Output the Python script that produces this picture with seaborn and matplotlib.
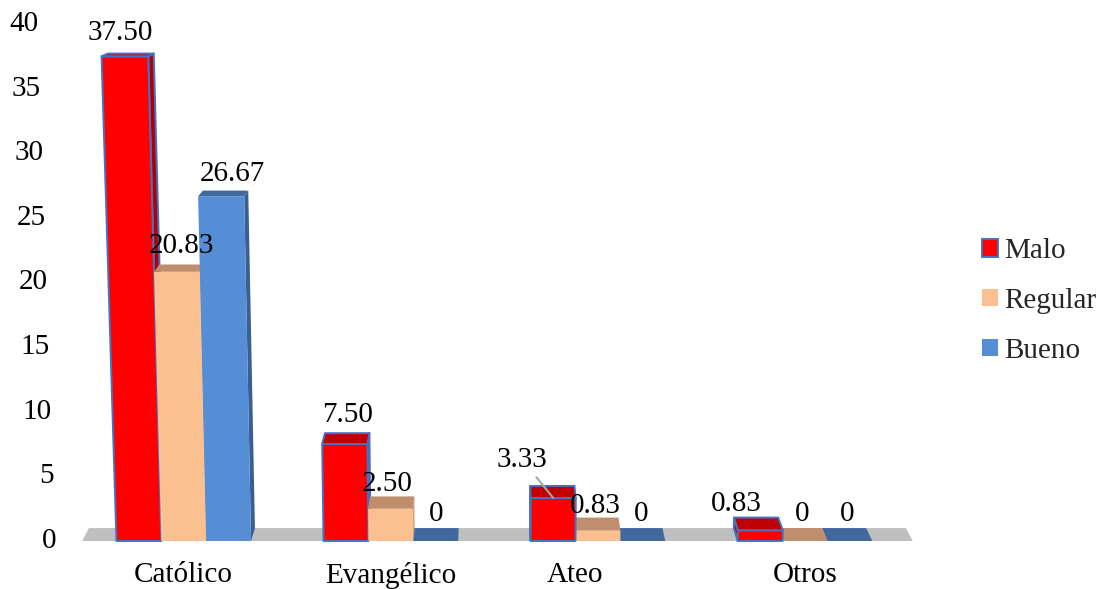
import matplotlib
matplotlib.use("Agg")
import matplotlib.pyplot as plt
from matplotlib.patches import Polygon, Patch
from matplotlib.transforms import ScaledTranslation
import pandas as pd
import seaborn as sns

# ---- data -------------------------------------------------------------
categorias = ["Católico", "Evangélico", "Ateo", "Otros"]
niveles = ["Malo", "Regular", "Bueno"]
malo = [37.50, 7.50, 3.33, 0.83]
regular = [20.83, 2.50, 0.83, 0]
bueno = [26.67, 0, 0, 0]
y_ticks = [0, 5, 10, 15, 20, 25, 30, 35, 40]

df = pd.DataFrame({
    "Religión": categorias * len(niveles),
    "Nivel": [n for n in niveles for _ in categorias],
    "Porcentaje": malo + regular + bueno,
})

# ---- styles -----------------------------------------------------------
colores_frente = {"Malo": "#FF0000", "Regular": "#FAC090", "Bueno": "#558ED5"}
colores_tapa = {"Malo": "#C00000", "Regular": "#BF8E6C", "Bueno": "#41699F"}
colores_lado = {"Malo": "#B20000", "Regular": "#C9976F", "Bueno": "#3A5F93"}
bordes = {"Malo": "#4472C4", "Regular": "none", "Bueno": "none"}
FUENTE = 21

# pseudo-3D projection (data units)
XV = 1.50        # horizontal vanishing position
FLARE = 0.00105  # outward lean of the front faces with height
DESPL = 0.016    # sideways shift of the back edge
PISO = (-0.49, 3.52)


def profundidad(y):
    return 1.0 - 0.021 * y


def frente(x, y):
    return (x + (x - XV) * FLARE * y, y)


def atras(x, y):
    xf, _ = frente(x, y)
    return (xf + (XV - xf) * DESPL, y + profundidad(y))


sns.set_theme(style="white")
plt.rcParams["font.family"] = ["Liberation Serif", "DejaVu Serif"]

fig = plt.figure(figsize=(11.06, 5.89), dpi=100)
ax = fig.add_axes([0.0669, 0.0815, 0.7658, 0.8778])

sns.barplot(data=df, x="Religión", y="Porcentaje", hue="Nivel",
            order=categorias, hue_order=niveles, palette=colores_frente,
            width=0.65, gap=0, errorbar=None, legend=False, ax=ax)

ax.set_xlim(-0.53, 3.56)
ax.set_ylim(0, 40)

# floor
piso = [frente(PISO[0], 0), frente(PISO[1], 0), atras(PISO[1], 0), atras(PISO[0], 0)]
ax.add_patch(Polygon(piso, closed=True, facecolor="#BFBFBF", edgecolor="none",
                     zorder=1, clip_on=False))

# collect bar geometry from seaborn's bars and rebuild them as 3D columns
barras = []
for nivel, cont in zip(niveles, ax.containers):
    for i, rect in enumerate(cont):
        x0 = rect.get_x()
        x1 = x0 + rect.get_width()
        h = rect.get_height()
        rect.set_visible(False)
        barras.append((nivel, i, x0, x1, h))

barras.sort(key=lambda b: -abs((b[2] + b[3]) / 2 - XV))
for k, (nivel, i, x0, x1, h) in enumerate(barras):
    z = 3 + k * 0.01
    c = (x0 + x1) / 2
    xe = x1 if c < XV else x0
    lado = [frente(xe, 0), frente(xe, h), atras(xe, h), atras(xe, 0)]
    cara = [frente(x0, 0), frente(x1, 0), frente(x1, h), frente(x0, h)]
    tapa = [frente(x0, h), frente(x1, h), atras(x1, h), atras(x0, h)]
    for pts, col in ((lado, colores_lado[nivel]), (cara, colores_frente[nivel]),
                     (tapa, colores_tapa[nivel])):
        ax.add_patch(Polygon(pts, closed=True, facecolor=col,
                             edgecolor=bordes[nivel], linewidth=1.4,
                             joinstyle="round", zorder=z, clip_on=False))

# value labels: offsets in pixels from the top of each column
offsets = {
    ("Malo", 0): (-8, 21), ("Regular", 0): (2, 18), ("Bueno", 0): (9, 17),
    ("Malo", 1): (2, 18), ("Regular", 1): (-4, 12), ("Bueno", 1): (0, 14),
    ("Regular", 2): (-2, 12), ("Bueno", 2): (0, 14),
    ("Malo", 3): (-22, 14), ("Regular", 3): (0, 14), ("Bueno", 3): (0, 14),
}
for nivel, i, x0, x1, h in barras:
    texto = "0" if h == 0 else f"{h:.2f}"
    if (nivel, i) == ("Malo", 2):
        xy = ((frente(x0, h)[0] + frente(x1, h)[0]) / 2, h)
        ax.annotate(texto, xy=xy, xytext=(-31, 38), textcoords="offset pixels",
                    ha="center", va="center", fontsize=FUENTE, color="black",
                    zorder=10, annotation_clip=False,
                    arrowprops=dict(arrowstyle="-", color="#A6A6A6", lw=1.5,
                                    shrinkA=1, shrinkB=0))
        continue
    tapa = [frente(x0, h), frente(x1, h), atras(x1, h), atras(x0, h)]
    cx = sum(p[0] for p in tapa) / 4
    cy = h + profundidad(h)
    ax.annotate(texto, xy=(cx, cy), xytext=offsets[(nivel, i)],
                textcoords="offset pixels", ha="center", va="center",
                fontsize=FUENTE, color="black", zorder=10, annotation_clip=False)

# y tick labels follow the leaning left wall
ax.set_yticks(y_ticks)
ax.set_yticklabels([])
for v in y_ticks:
    ax.annotate(str(v), xy=frente(PISO[0], v), xytext=(-26, 0),
                textcoords="offset pixels", ha="right", va="center",
                fontsize=FUENTE, color="black", annotation_clip=False)

ax.set_xticks(range(len(categorias)))
ax.set_xticklabels(categorias)
ax.tick_params(axis="both", length=0)
ax.tick_params(axis="x", pad=15, labelsize=FUENTE, labelcolor="black")
lab = ax.get_xticklabels()[2]
lab.set_transform(lab.get_transform() + ScaledTranslation(-0.23, 0, fig.dpi_scale_trans))
ax.set_xlabel("")
ax.set_ylabel("")
for s in ax.spines.values():
    s.set_visible(False)
ax.grid(False)

handles = [Patch(facecolor=colores_frente[n], edgecolor=bordes[n], linewidth=1.4)
           for n in niveles]
fig.legend(handles, niveles, loc="center left", bbox_to_anchor=(0.888, 0.489),
           frameon=False, fontsize=FUENTE, handlelength=0.55, handleheight=0.55,
           handletextpad=0.2, labelspacing=0.82, borderaxespad=0, borderpad=0)

fig.savefig("out.png", dpi=100, facecolor="white")
